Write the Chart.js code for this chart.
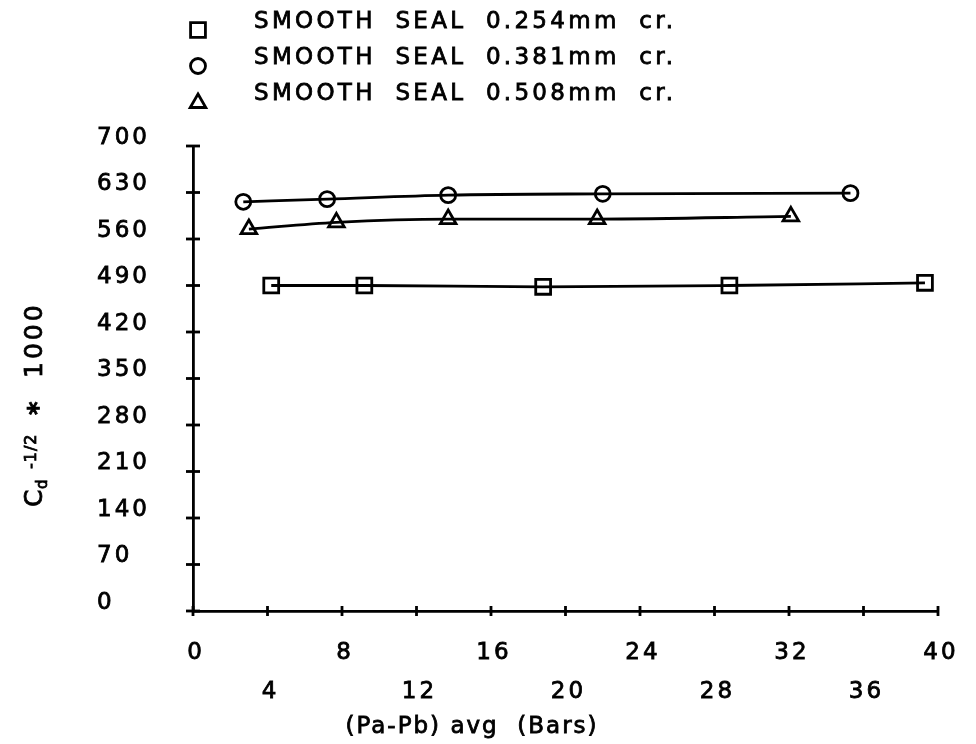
<!DOCTYPE html>
<html>
<head>
<meta charset="utf-8">
<script src="https://cdn.jsdelivr.net/npm/chart.js@4/dist/chart.umd.min.js"></script>
<style>
  html, body { margin: 0; padding: 0; background: #ffffff; }
  #wrap { width: 976px; height: 744px; }
</style>
</head>
<body>
<div id="wrap"><canvas id="c" width="976" height="744"></canvas></div>
<script>
// Series names (legend order)
const seriesLabels = [
  'SMOOTH SEAL 0.254mm cr.',
  'SMOOTH SEAL 0.381mm cr.',
  'SMOOTH SEAL 0.508mm cr.'
];
const seriesMarkers = ['rect', 'circle', 'triangle'];

// (Pa-Pb) avg in bars, and Cd^-1/2 * 1000
const seal254X = [4.2, 9.2, 18.8, 28.8, 39.3];
const seal254Y = [490, 490, 488, 490, 494];
const seal381X = [2.7, 7.2, 13.7, 22.0, 35.3];
const seal381Y = [616, 620, 626, 628, 629];
const seal508X = [3.0, 7.7, 13.7, 21.7, 32.1];
const seal508Y = [575, 585, 590, 590, 594];

// Axis ticks
const xTickValues = [0, 4, 8, 12, 16, 20, 24, 28, 32, 36, 40];
const yTickValues = [0, 70, 140, 210, 280, 350, 420, 490, 560, 630, 700];
const yTickLabels = ['0', '70', '140', '210', '280', '350', '420', '490', '560', '630', '700'];

const xTitle = '(Pa-Pb) avg  (Bars)';

const FONT = '"DejaVu Sans", sans-serif';
const INK = '#000000';
const PEN = 2.8;

function toPoints(xs, ys) {
  return xs.map((x, i) => ({ x: x, y: ys[i] }));
}

const seriesData = [
  toPoints(seal254X, seal254Y),
  toPoints(seal381X, seal381Y),
  toPoints(seal508X, seal508Y)
];
const markerRadius = { rect: 10.5, circle: 7.5, triangle: 9 };

const datasets = seriesLabels.map((label, i) => ({
  label: label,
  data: seriesData[i],
  showLine: true,
  borderColor: INK,
  borderWidth: PEN,
  backgroundColor: 'rgba(0,0,0,0)',
  pointStyle: seriesMarkers[i],
  pointRadius: markerRadius[seriesMarkers[i]],
  pointBorderWidth: PEN,
  pointBorderColor: INK,
  pointBackgroundColor: 'rgba(0,0,0,0)',
  cubicInterpolationMode: 'monotone',
  clip: false
}));

// Plotter-style wide lettering for every text drawn on the canvas
const spacingPlugin = {
  id: 'spacing',
  beforeUpdate(chart) { chart.ctx.letterSpacing = '3px'; },
  beforeLayout(chart) { chart.ctx.letterSpacing = '3px'; },
  beforeDraw(chart) {
    const ctx = chart.ctx;
    ctx.letterSpacing = '3px';
    ctx.save();
    ctx.fillStyle = '#ffffff';
    ctx.fillRect(0, 0, chart.width, chart.height);
    ctx.restore();
  }
};

// Tick marks crossing both axes
const crossTicks = {
  id: 'crossTicks',
  afterDraw(chart) {
    const ctx = chart.ctx;
    const xs = chart.scales.x, ys = chart.scales.y;
    const x0 = xs.getPixelForValue(0);
    const y0 = ys.getPixelForValue(0);
    ctx.save();
    ctx.strokeStyle = INK;
    ctx.lineWidth = PEN;
    ys.ticks.forEach(t => {
      const p = ys.getPixelForValue(t.value);
      ctx.beginPath(); ctx.moveTo(x0 - 7, p); ctx.lineTo(x0 + 7, p); ctx.stroke();
    });
    xs.ticks.forEach(t => {
      const p = xs.getPixelForValue(t.value);
      ctx.beginPath(); ctx.moveTo(p, y0 - 5); ctx.lineTo(p, y0 + 5); ctx.stroke();
    });
    ctx.restore();
  }
};

function inkText(ctx, s, x, y) {
  ctx.fillText(s, x, y);
  ctx.strokeText(s, x, y);
}

// Legend block: marker + series name, stacked
const markerLegend = {
  id: 'markerLegend',
  afterDraw(chart) {
    const ctx = chart.ctx;
    const rowsText = [22, 58, 94];
    const rowsMark = [30, 66, 103];
    ctx.save();
    ctx.letterSpacing = '3.3px';
    ctx.wordSpacing = '9px';
    ctx.font = '23px ' + FONT;
    ctx.textAlign = 'left';
    ctx.textBaseline = 'middle';
    chart.data.datasets.forEach((ds, i) => {
      ctx.strokeStyle = INK;
      ctx.fillStyle = 'rgba(0,0,0,0)';
      ctx.lineWidth = PEN;
      Chart.helpers.drawPoint(ctx, {
        pointStyle: ds.pointStyle,
        radius: ds.pointRadius,
        rotation: 0,
        borderWidth: PEN
      }, 198, rowsMark[i]);
      ctx.fillStyle = INK;
      ctx.lineWidth = 0.8;
      inkText(ctx, ds.label, 254, rowsText[i]);
    });
    ctx.restore();
  }
};

// Axis titles
const axisTitles = {
  id: 'axisTitles',
  afterDraw(chart) {
    const ctx = chart.ctx;
    ctx.save();
    ctx.fillStyle = INK;
    ctx.strokeStyle = INK;
    ctx.lineWidth = 0.8;
    ctx.letterSpacing = '2px';
    ctx.font = '23px ' + FONT;
    ctx.textAlign = 'center';
    ctx.textBaseline = 'middle';
    inkText(ctx, xTitle, 472, 727);

    // Rotated y title reading upward: C_d^(-1/2) * 1000
    ctx.translate(0, 507);
    ctx.rotate(-Math.PI / 2);
    ctx.textAlign = 'left';
    ctx.textBaseline = 'alphabetic';
    ctx.letterSpacing = '0px';
    ctx.font = '25px ' + FONT;
    inkText(ctx, 'C', 0, 42);
    ctx.font = '15px ' + FONT;
    inkText(ctx, 'd', 18, 47);
    ctx.letterSpacing = '1px';
    ctx.font = '16px ' + FONT;
    inkText(ctx, '-1/2', 38, 36);
    ctx.letterSpacing = '0px';
    ctx.font = 'bold 26px ' + FONT;
    inkText(ctx, '*', 92, 47);
    ctx.letterSpacing = '3px';
    ctx.font = '25px ' + FONT;
    inkText(ctx, '1000', 129, 42);
    ctx.restore();
  }
};

new Chart(document.getElementById('c'), {
  type: 'scatter',
  data: { datasets: datasets },
  options: {
    responsive: false,
    animation: false,
    devicePixelRatio: 1,
    layout: { padding: { left: 97, right: 38, top: 146, bottom: 0 } },
    plugins: {
      legend: { display: false },
      tooltip: { enabled: false }
    },
    scales: {
      x: {
        type: 'linear',
        min: 0,
        max: 40,
        afterFit(scale) { scale.height = 133; },
        afterBuildTicks(scale) { scale.ticks = xTickValues.map(v => ({ value: v })); },
        grid: { display: false },
        border: { display: true, color: INK, width: PEN },
        ticks: {
          autoSkip: false,
          maxRotation: 0,
          padding: 14,
          labelOffset: 3,
          color: INK,
          textStrokeColor: INK,
          textStrokeWidth: 0.8,
          font: { family: FONT, size: 23, lineHeight: 1.7 },
          callback(value, index) {
            return index % 2 === 0 ? String(value) : ['', String(value)];
          }
        }
      },
      y: {
        type: 'linear',
        min: 0,
        max: 700,
        afterFit(scale) { scale.width = 96; },
        afterBuildTicks(scale) { scale.ticks = yTickValues.map(v => ({ value: v })); },
        grid: { display: false },
        border: { display: true, color: INK, width: PEN },
        ticks: {
          autoSkip: false,
          crossAlign: 'far',
          labelOffset: -8,
          color: INK,
          textStrokeColor: INK,
          textStrokeWidth: 0.8,
          font: { family: FONT, size: 23 },
          callback(value, index) { return yTickLabels[index]; }
        }
      }
    }
  },
  plugins: [spacingPlugin, crossTicks, markerLegend, axisTitles]
});
</script>
</body>
</html>
